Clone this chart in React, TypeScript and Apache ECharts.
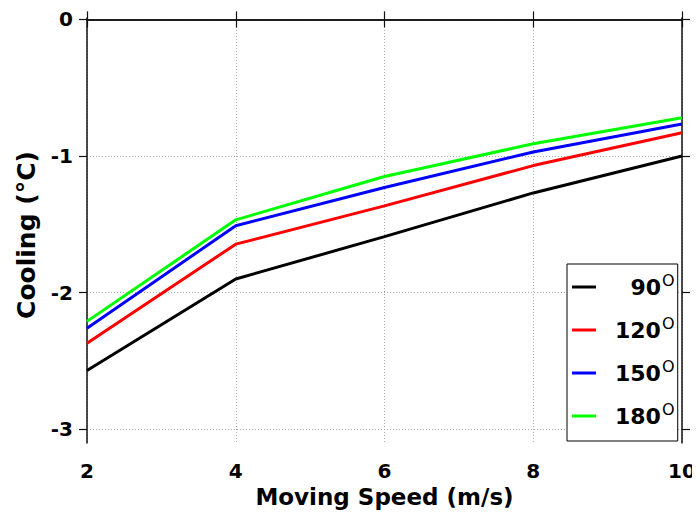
import React, { useEffect, useRef } from "react";
import * as echarts from "echarts";

const speeds = [2, 4, 6, 8, 10];
const seriesNames = ["90", "120", "150", "180"];
const cooling90 = [-2.57, -1.9, -1.59, -1.27, -1.0];
const cooling120 = [-2.37, -1.645, -1.365, -1.07, -0.83];
const cooling150 = [-2.26, -1.51, -1.23, -0.97, -0.766];
const cooling180 = [-2.21, -1.467, -1.15, -0.91, -0.72];
const colors = ["#000000", "#ff0000", "#0000ff", "#00ff00"];
const xTicks = { min: 2, max: 10, interval: 2 };
const yRange = { min: -3.1, max: 0.01 };
const yTickValues = [-3, -2, -1, 0];

const FONT = '"DejaVu Sans", sans-serif';

export default function App() {
  const ref = useRef<HTMLDivElement>(null);
  useEffect(() => {
    if (!ref.current) return;
    const chart = echarts.init(ref.current, null, { renderer: "svg" });
    const allData = [cooling90, cooling120, cooling150, cooling180];
    const axisLine = { show: true, lineStyle: { color: "#111", width: 1.5 } };
    const tick = { show: true, inside: false, length: 8, lineStyle: { color: "#111", width: 1.2 } };
    const grid = { show: true, lineStyle: { color: "#aaa", type: [1, 2] as any, width: 1 } };
    chart.setOption({
      animation: false,
      backgroundColor: "#ffffff",
      grid: { left: 87, right: 18, top: 18, bottom: 76, containLabel: false },
      xAxis: [
        {
          type: "value",
          ...xTicks,
          position: "bottom",
          axisLine,
          axisTick: tick,
          splitLine: grid,
          axisLabel: { fontFamily: FONT, fontSize: 20, fontWeight: "bold", color: "#000", margin: 18 },
          name: "Moving Speed (m/s)",
          nameLocation: "middle",
          nameGap: 39,
          nameTextStyle: { fontFamily: FONT, fontSize: 23, fontWeight: "bold", color: "#000" },
        },
        {
          type: "value",
          ...xTicks,
          position: "top",
          axisLine,
          axisTick: tick,
          splitLine: { show: false },
          axisLabel: { show: false },
        },
      ],
      yAxis: [
        {
          type: "value",
          ...yRange,
          position: "left",
          axisLine,
          axisTick: { ...tick, customValues: yTickValues },
          splitLine: grid,
          axisLabel: {
            fontFamily: FONT,
            fontSize: 20,
            fontWeight: "bold",
            color: "#000",
            margin: 14,
            customValues: yTickValues,
            formatter: (v: number) => String(Math.round(v)),
          },
          name: "Cooling (°C)",
          nameLocation: "middle",
          nameGap: 48,
          nameTextStyle: { fontFamily: FONT, fontSize: 25, fontWeight: "bold", color: "#000", padding: [0, 9, 0, 0] },
        },
        {
          type: "value",
          ...yRange,
          position: "right",
          axisLine,
          axisTick: { ...tick, customValues: yTickValues },
          splitLine: { show: false },
          axisLabel: { show: false, customValues: yTickValues },
        },
      ],
      legend: {
        orient: "vertical",
        left: 567,
        top: 264,
        data: seriesNames,
        icon: "rect",
        itemWidth: 24,
        itemHeight: 3,
        itemGap: 17,
        itemTextGap: 5,
        padding: [8, 3, 14, 5],
        borderColor: "#000",
        borderWidth: 1,
        backgroundColor: "#fff",
        formatter: (name: string) => (name.length < 3 ? `{p2| }{n|${name}}{s|O}` : `{p3| }{n|${name}}{s|O}`),
        textStyle: {
          rich: {
            p2: { fontFamily: FONT, fontSize: 22, width: 29.5, lineHeight: 30 },
            p3: { fontFamily: FONT, fontSize: 22, width: 14, lineHeight: 30 },
            n: { fontFamily: FONT, fontSize: 22, fontWeight: "bold", color: "#000", lineHeight: 30 },
            s: { fontFamily: FONT, fontSize: 16, fontWeight: "normal", color: "#000", lineHeight: 18, verticalAlign: "top", padding: [0, 0, 0, 1] },
          },
        },
      },
      series: seriesNames.map((name, i) => ({
        name,
        type: "line",
        xAxisIndex: 0,
        yAxisIndex: 0,
        data: speeds.map((s, j) => [s, allData[i][j]]),
        showSymbol: false,
        symbol: "none",
        lineStyle: { color: colors[i], width: 3 },
        itemStyle: { color: colors[i] },
        z: 3,
      })),
    });
    return () => chart.dispose();
  }, []);
  return <div ref={ref} style={{ width: 700, height: 519, margin: -8 }} />;
}
